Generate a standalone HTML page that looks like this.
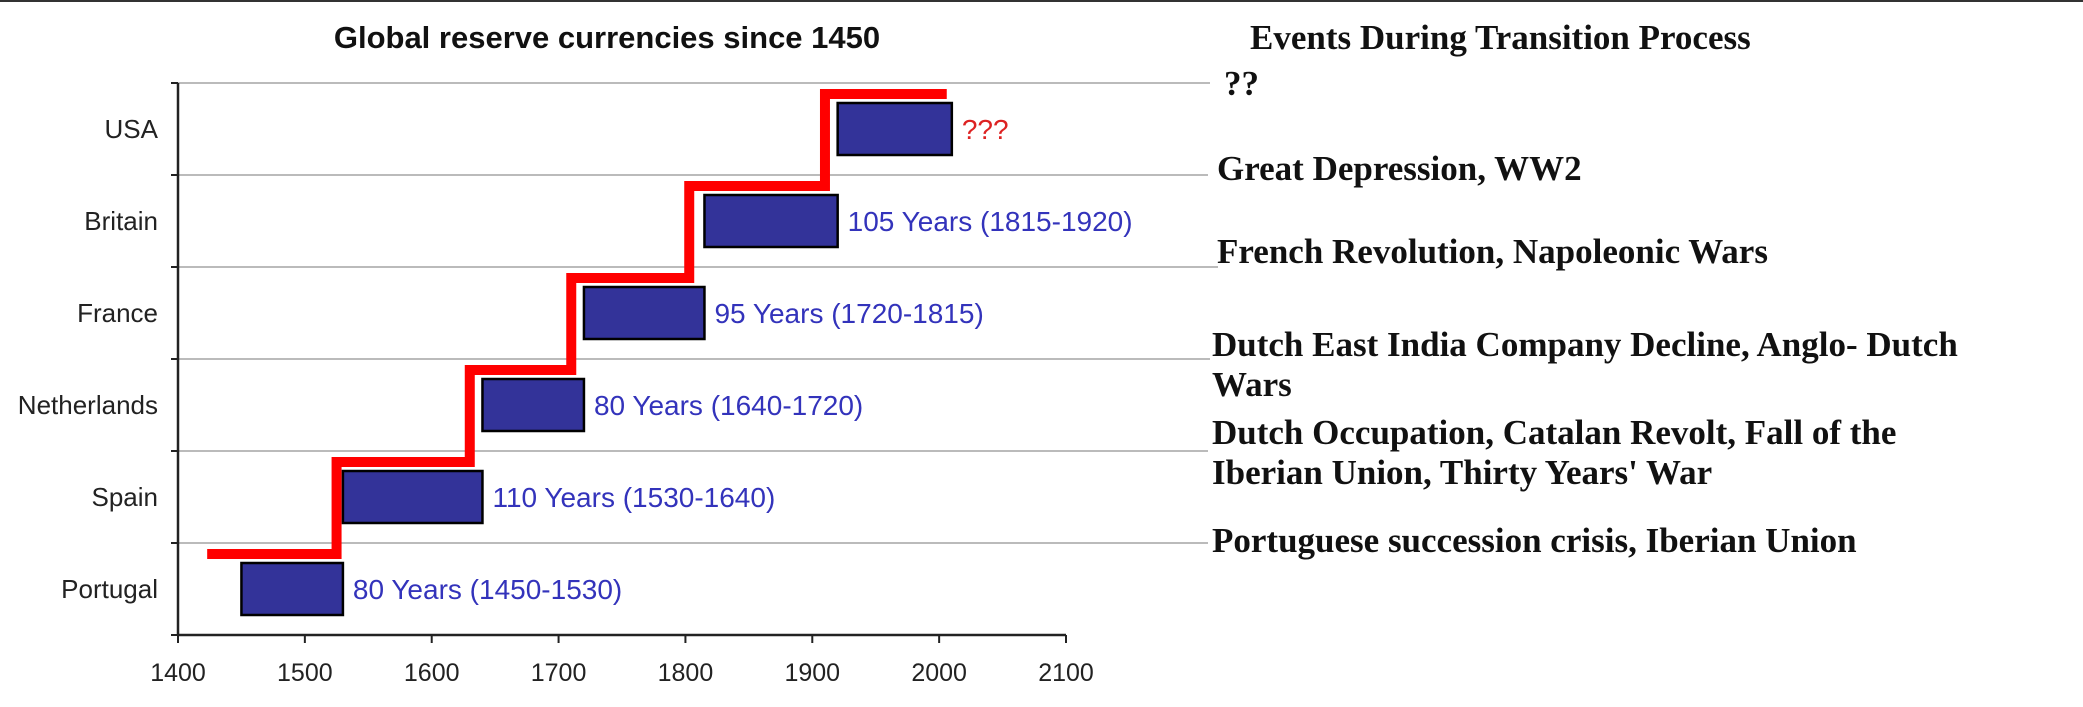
<!DOCTYPE html>
<html><head><meta charset="utf-8"><style>
body{margin:0;background:#fff;width:2083px;height:707px;overflow:hidden}
svg{display:block}
</style></head><body>
<svg id="c" width="2083" height="707" xmlns="http://www.w3.org/2000/svg">
<line x1="0" y1="1" x2="2083" y2="1" stroke="#333" stroke-width="2"/>
<text x="607" y="48" text-anchor="middle" font-family="Liberation Sans, sans-serif" font-weight="bold" font-size="31" fill="#111">Global reserve currencies since 1450</text>
<text x="1250" y="49" font-family="Liberation Serif, serif" font-weight="bold" font-size="35" fill="#111">Events During Transition Process</text>
<g id="g"></g>
</svg>
<script>
const countries=["Portugal","Spain","Netherlands","France","Britain","USA"];
const starts=[1450,1530,1640,1720,1815,1920];
const ends=[1530,1640,1720,1815,1920,2010];
const labels=["80 Years (1450-1530)","110 Years (1530-1640)","80 Years (1640-1720)","95 Years (1720-1815)","105 Years (1815-1920)","???"];
const stepYears=[1423,1525,1630,1710,1803,1910,2006];
const xTicks=[1400,1500,1600,1700,1800,1900,2000,2100];
const events=[["Portuguese succession crisis, Iberian Union"],["Dutch Occupation, Catalan Revolt, Fall of the","Iberian Union, Thirty Years' War"],["Dutch East India Company Decline, Anglo- Dutch","Wars"],["French Revolution, Napoleonic Wars"],["Great Depression, WW2"],["??"]];
const eventY=[[540],[432,472],[344,384],[251],[168],[83]];
const gridEnd=[1208,1208,1210,1218,1208,1210];

const NS="http://www.w3.org/2000/svg",g=document.getElementById('g');
const x0=178,x1=1066,top0=83,rowH=92,axisY=635;
const X=v=>x0+(v-1400)/(2100-1400)*(x1-x0);
const rowTop=i=>top0+rowH*(countries.length-1-i);
function el(t,a,txt){const e=document.createElementNS(NS,t);for(const k in a)e.setAttribute(k,a[k]);if(txt!==undefined)e.textContent=txt;g.appendChild(e);return e;}

countries.forEach((c,i)=>{
  const y=rowTop(i);
  const gl=el('line',{x1:x0,y1:y,x2:gridEnd[i],y2:y,stroke:'#bbb','stroke-width':2});
  
  
  const tk=el('line',{x1:x0-7,y1:y,x2:x0,y2:y,stroke:'#222','stroke-width':2});
  
  
  const t=el('text',{x:158,y:y+rowH/2+9,'text-anchor':'end','font-family':'Liberation Sans, sans-serif','font-size':26,fill:'#222'},c);
  
  
});
const yt=el('line',{x1:x0-7,y1:axisY,x2:x0,y2:axisY,stroke:'#222','stroke-width':2});


const ya=el('line',{x1:x0,y1:top0,x2:x0,y2:axisY,stroke:'#222','stroke-width':2.5});


const xa=el('line',{x1:x0,y1:axisY,x2:x1,y2:axisY,stroke:'#222','stroke-width':2.5});


xTicks.forEach(v=>{
  const l=el('line',{x1:X(v),y1:axisY,x2:X(v),y2:axisY+8,stroke:'#222','stroke-width':2});
  
  
  const t=el('text',{x:X(v),y:681,'text-anchor':'middle','font-family':'Liberation Sans, sans-serif','font-size':25,fill:'#222'},v);
  
  
});
let pts=[];
for(let i=0;i<countries.length;i++){
  const y=rowTop(i)+11;
  pts.push([X(stepYears[i]),y],[X(stepYears[i+1]),y]);
}
const pl=el('polyline',{points:pts.map(p=>p.join(',')).join(' '),fill:'none',stroke:'#ff0000','stroke-width':10,'stroke-linejoin':'miter'});


countries.forEach((c,i)=>{
  const y=rowTop(i)+20;
  const r=el('rect',{x:X(starts[i]),y:y,width:X(ends[i])-X(starts[i]),height:52,fill:'#333399',stroke:'#000','stroke-width':2.5});
  
  
  const t=el('text',{x:X(ends[i])+10,y:y+36,'font-family':'Liberation Sans, sans-serif','font-size':28,fill:i==5?'#dd2222':'#3333bb'},labels[i]);
  
  
});
events.forEach((lines,i)=>{
  lines.forEach((s,j)=>{
    const xx=i==5?1224:(i>=3?1217:1212);
    const t=el('text',{x:xx,y:eventY[i][j]+12,'font-family':'Liberation Serif, serif','font-weight':'bold','font-size':35,fill:'#111'},s);
    
    
  });
});
</script>
</body></html>
